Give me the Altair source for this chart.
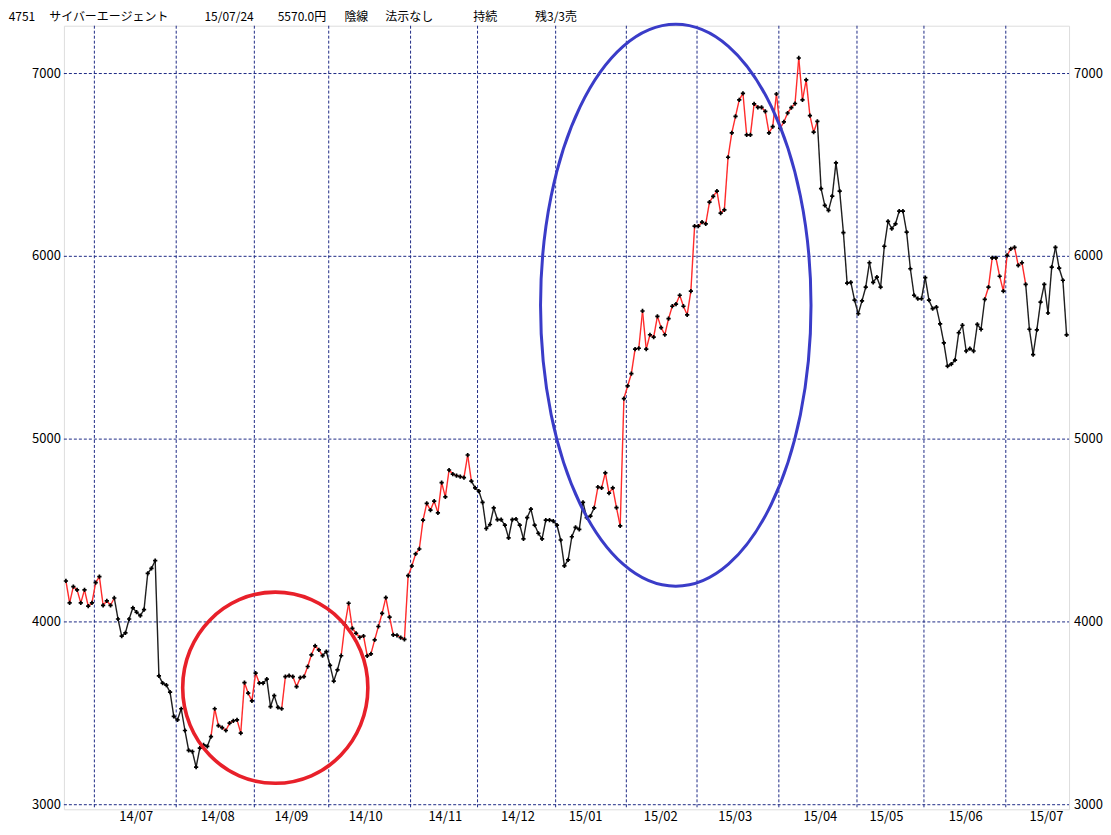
import altair as alt
import pandas as pd

# ---------------- data ----------------
close = [
    4224, 4104, 4193, 4175, 4104, 4175, 4086, 4104,             # 14/06 (last days)
    4215, 4248, 4091, 4115, 4091, 4131, 4016, 3922, 3940, 4016,
    4077, 4053, 4034, 4067, 4266, 4293, 4335, 3705, 3665, 3654,
    3616, 3483,                                                 # 14/07
    3464, 3525, 3406, 3297, 3291, 3206, 3310, 3328, 3319, 3373,
    3525, 3433, 3422, 3406, 3446, 3459, 3464, 3392, 3668, 3610,
    3568,                                                       # 14/08
    3720, 3665, 3665, 3687, 3537, 3597, 3532, 3525, 3701, 3706,
    3701, 3646, 3695, 3701, 3756, 3820, 3869, 3847, 3816, 3838, # 14/09
    3762, 3676, 3738, 3815, 3984, 4102, 3965, 3938, 3916, 3923,
    3814, 3825, 3902, 3975, 4047, 4133, 4026, 3929, 3927, 3914,
    3905, 4253,                                                 # 14/10
    4306, 4372, 4399, 4557, 4648, 4612, 4661, 4597, 4762, 4684,
    4831, 4809, 4800, 4795, 4789, 4913, 4770, 4733,             # 14/11
    4716, 4654, 4511, 4533, 4624, 4560, 4560, 4530, 4460, 4560,
    4563, 4530, 4454, 4571, 4617, 4530, 4485, 4454, 4557, 4557,
    4552,                                                       # 14/12
    4530, 4448, 4307, 4339, 4466, 4517, 4506, 4654, 4571, 4579,
    4624, 4738, 4733, 4815, 4705, 4733, 4625, 4525, 5222,       # 15/01
    5291, 5358, 5492, 5497, 5701, 5492, 5571, 5558, 5672, 5610,
    5571, 5659, 5727, 5738, 5787, 5727, 5680, 5810, 6165,       # 15/02
    6165, 6187, 6178, 6297, 6328, 6357, 6236, 6254, 6542, 6675,
    6766, 6856, 6891, 6664, 6664, 6834, 6815, 6815, 6793, 6675,
    6710, 6888,                                                 # 15/03
    6700, 6735, 6784, 6814, 6836, 7085, 6856, 6965, 6770, 6679,
    6738, 6370, 6279, 6251, 6329, 6511, 6357, 6130, 5853, 5858,
    5760,                                                       # 15/04
    5686, 5756, 5831, 5965, 5858, 5886, 5831, 6055, 6191, 6151,
    6178, 6247, 6247, 6132, 5932, 5787, 5768, 5768,             # 15/05
    5883, 5760, 5714, 5722, 5631, 5527, 5399, 5410, 5432, 5582,
    5623, 5482, 5495, 5482, 5628, 5601, 5765, 5831, 5992, 5992,
    5891, 5810,                                                 # 15/06
    6005, 6041, 6049, 5951, 5965, 5847, 5601, 5462, 5598, 5749,
    5847, 5690, 5941, 6049, 5935, 5869, 5570,                   # 15/07
]
# trading days per month (first entry: last days of 14/06)
month_days = [8, 22, 21, 20, 22, 18, 21, 19, 19, 22, 21, 18, 22, 17]
month_labels = ["14/07", "14/08", "14/09", "14/10", "14/11", "14/12",
                "15/01", "15/02", "15/03", "15/04", "15/05", "15/06", "15/07"]
label_idx = [18.9, 40.8, 60.6, 80.6, 102.0, 121.5, 139.7, 159.9,
             179.9, 202.8, 220.6, 241.9, 263.6]
# segments drawn in red (inclusive ranges of segment index)
red_runs = [(0, 12), (39, 51), (58, 68), (74, 108), (142, 201), (247, 257)]
y_ticks = [3000, 4000, 5000, 6000, 7000]

title_parts = ["4751", "サイバーエージェント", "15/07/24", "5570.0円",
               "陰線", "法示なし", "持続", "残3/3売"]
title_cx = [22, 109, 229.5, 302.5, 357, 410, 486, 557]

# annotation ellipses: centre (index, price), radii in px
ellipses = [
    {"i": 56.28, "p": 3640, "rx": 92.75, "ry": 95.75, "col": "#e8202a", "sw": 3.6},
    {"i": 163.94, "p": 5732, "rx": 135.5, "ry": 281.5, "col": "#3a3cc8", "sw": 3.0},
]

# ---------------- layout ----------------
TOP = 25                       # page y of the plot frame top
W, H = 1007, 810 - TOP
PADL, PADT = 56, TOP - 8
XD = [-0.54, 269.66]
YD = [2975, 7000 + (72.9 - TOP) / 0.18313]
FONT = "Noto Sans CJK JP"
GRID = "#1e2a86"
FRAME = "#2a45a5"

xs = alt.Scale(domain=XD, nice=False, zero=False)
ys = alt.Scale(domain=YD, nice=False, zero=False)

n = len(close)
idx = list(range(n))
pts = pd.DataFrame({"i": idx, "p": close})

red_set = set()
for a, b in red_runs:
    red_set.update(range(a, b + 1))
segs = pd.DataFrame({
    "i": idx[:-1], "i2": idx[1:], "p": close[:-1], "p2": close[1:],
    "c": ["red" if k in red_set else "black" for k in range(n - 1)],
})

starts = []
acc = 0
for d in month_days[:-1]:
    acc += d
    starts.append(acc - 0.35)
vg_df = pd.DataFrame({"g": starts})

hgrid = alt.Chart(pd.DataFrame({"p": y_ticks})).mark_rule(
    color=GRID, strokeWidth=1, strokeDash=[3, 2]
).encode(y=alt.Y("p:Q", scale=ys, axis=None), x=alt.value(0), x2=alt.value(W))

vgrid = alt.Chart(vg_df).mark_rule(
    color=GRID, strokeWidth=1, strokeDash=[3, 2]
).encode(x=alt.X("g:Q", scale=xs, axis=None), y=alt.value(0), y2=alt.value(H))

seg_layer = alt.Chart(segs).mark_rule(strokeWidth=1.4).encode(
    x=alt.X("i:Q", scale=xs, axis=None),
    x2="i2:Q",
    y=alt.Y("p:Q", scale=ys, axis=None),
    y2="p2:Q",
    color=alt.Color("c:N", scale=alt.Scale(domain=["black", "red"],
                                           range=["#1e1e1e", "#ff2b2b"]), legend=None),
)

pt_layer = alt.Chart(pts).mark_point(
    shape="cross", filled=True, size=18, color="#000000", opacity=1, strokeWidth=0
).encode(x=alt.X("i:Q", scale=xs, axis=None), y=alt.Y("p:Q", scale=ys, axis=None))

lab_df = pd.DataFrame({"p": y_ticks, "t": [str(v) for v in y_ticks]})
left_lab = alt.Chart(lab_df).mark_text(
    align="right", baseline="middle", font=FONT, fontSize=13, color="#000"
).encode(y=alt.Y("p:Q", scale=ys, axis=None), x=alt.value(-3), text="t:N")
right_lab = alt.Chart(lab_df).mark_text(
    align="left", baseline="middle", font=FONT, fontSize=13, color="#000"
).encode(y=alt.Y("p:Q", scale=ys, axis=None), x=alt.value(W + 5), text="t:N")

mon_df = pd.DataFrame({"li": label_idx, "t": month_labels})
mon_lab = alt.Chart(mon_df).mark_text(
    align="center", baseline="middle", font=FONT, fontSize=13, color="#000"
).encode(x=alt.X("li:Q", scale=xs, axis=None), y=alt.value(H + 8), text="t:N")

layers = [hgrid, vgrid, seg_layer, pt_layer, left_lab, right_lab, mon_lab]

k = 0.5523
for e in ellipses:
    a = e["rx"] / e["ry"]
    path = (f"M {-a:.4f} 0 C {-a:.4f} {-k:.4f} {-k*a:.4f} -1 0 -1 "
            f"C {k*a:.4f} -1 {a:.4f} {-k:.4f} {a:.4f} 0 "
            f"C {a:.4f} {k:.4f} {k*a:.4f} 1 0 1 "
            f"C {-k*a:.4f} 1 {-a:.4f} {k:.4f} {-a:.4f} 0 Z")
    size = (2 * e["ry"]) ** 2
    layers.append(
        alt.Chart(pd.DataFrame([{"i": e["i"], "p": e["p"]}])).mark_point(
            shape=path, filled=False, size=size, color=e["col"],
            strokeWidth=e["sw"], opacity=1
        ).encode(x=alt.X("i:Q", scale=xs, axis=None), y=alt.Y("p:Q", scale=ys, axis=None))
    )

for t, cx in zip(title_parts, title_cx):
    layers.append(
        alt.Chart(pd.DataFrame({"t": [t]})).mark_text(
            align="center", baseline="middle", font=FONT, fontSize=12, color="#000"
        ).encode(x=alt.value(cx - 64), y=alt.value(16.5 - TOP), text="t:N")
    )

chart = alt.layer(*layers).properties(
    width=W, height=H,
    autosize=alt.AutoSizeParams(type="none"),
    padding={"left": PADL, "top": PADT, "right": 34, "bottom": 18},
).configure_view(stroke=FRAME, strokeWidth=2).configure(background="white")

chart.save("out.html", embed_options={"renderer": "svg", "actions": False})
